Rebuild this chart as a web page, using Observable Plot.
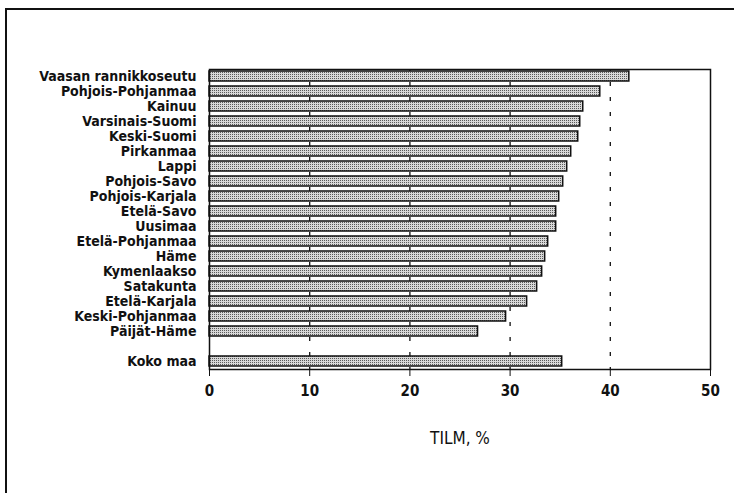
<!DOCTYPE html>
<html>
<head>
<meta charset="utf-8">
<script src="https://cdn.jsdelivr.net/npm/d3@7"></script>
<script src="https://cdn.jsdelivr.net/npm/@observablehq/plot@0.6"></script>
<style>
  html, body { margin: 0; padding: 0; background: #fff; }
  #wrap { position: relative; width: 734px; height: 493px; overflow: hidden; }
  #border { position: absolute; left: 5px; top: 8px; right: -4px; bottom: -4px;
            border-left: 2px solid #111; border-top: 2px solid #111; }
  #chart { position: absolute; left: 0; top: 0; }
</style>
</head>
<body>
<div id="wrap"><div id="border"></div><div id="chart"></div></div>
<script>
const regions = [
  "Vaasan rannikkoseutu", "Pohjois-Pohjanmaa", "Kainuu", "Varsinais-Suomi",
  "Keski-Suomi", "Pirkanmaa", "Lappi", "Pohjois-Savo", "Pohjois-Karjala",
  "Etelä-Savo", "Uusimaa", "Etelä-Pohjanmaa", "Häme", "Kymenlaakso",
  "Satakunta", "Etelä-Karjala", "Keski-Pohjanmaa", "Päijät-Häme"
];
const values = [
  41.9, 39.0, 37.3, 37.0,
  36.8, 36.1, 35.7, 35.3, 34.9,
  34.6, 34.6, 33.8, 33.5, 33.2,
  32.7, 31.7, 29.6, 26.8
];
const totalLabel = "Koko maa";
const totalValue = 35.2;
const gap = " ";
const xTicks = [0, 10, 20, 30, 40, 50];
const gridValues = [10, 20, 30, 40];
const xTitle = "TILM, %";

const data = regions.map((r, i) => ({name: r, value: values[i]}));
data.push({name: totalLabel, value: totalValue});
const yDomain = [...regions, gap, totalLabel];

const font = "'DejaVu Sans Condensed', 'Liberation Sans Narrow', sans-serif";

const plot = Plot.plot({
  width: 734,
  height: 493,
  marginLeft: 209,
  marginRight: 24,
  marginTop: 69,
  marginBottom: 124,
  style: {fontFamily: font, fontSize: "14px", fontWeight: "bold", color: "#111", background: "transparent"},
  x: {domain: [0, 50]},
  y: {domain: yDomain, paddingInner: 0.33, paddingOuter: 0.165, label: null},
  marks: [
    Plot.ruleX(gridValues, {stroke: "#111", strokeWidth: 1.3, strokeDasharray: "4,11", strokeDashoffset: 2}),
    Plot.barX(data, {x: "value", y: "name", fill: "url(#dots)", stroke: "#111", strokeWidth: 1.5}),
    Plot.frame({stroke: "#111", strokeWidth: 1.5}),
    Plot.axisY({tickSize: 0, tickPadding: 13, label: null, fontSize: 14}),
    Plot.axisX({ticks: xTicks, tickSize: 7, tickPadding: 9, fontSize: 15,
                label: xTitle, labelAnchor: "center", labelArrow: "none", labelOffset: 74})
  ]
});

// halftone-like pattern for the bars
const ns = "http://www.w3.org/2000/svg";
const defs = document.createElementNS(ns, "defs");
defs.innerHTML = `<pattern id="dots" width="2" height="2" patternUnits="userSpaceOnUse">
  <rect width="2" height="2" fill="#d8d8d8"/>
  <rect width="1" height="1" fill="#5a5a5a"/>
</pattern>`;
plot.insertBefore(defs, plot.firstChild);

// axis title slightly larger
plot.querySelectorAll("g[aria-label='x-axis label'] text").forEach(t => {
  t.setAttribute("font-weight", "normal");
  t.setAttribute("font-size", "17");
});

document.getElementById("chart").appendChild(plot);
</script>
</body>
</html>
